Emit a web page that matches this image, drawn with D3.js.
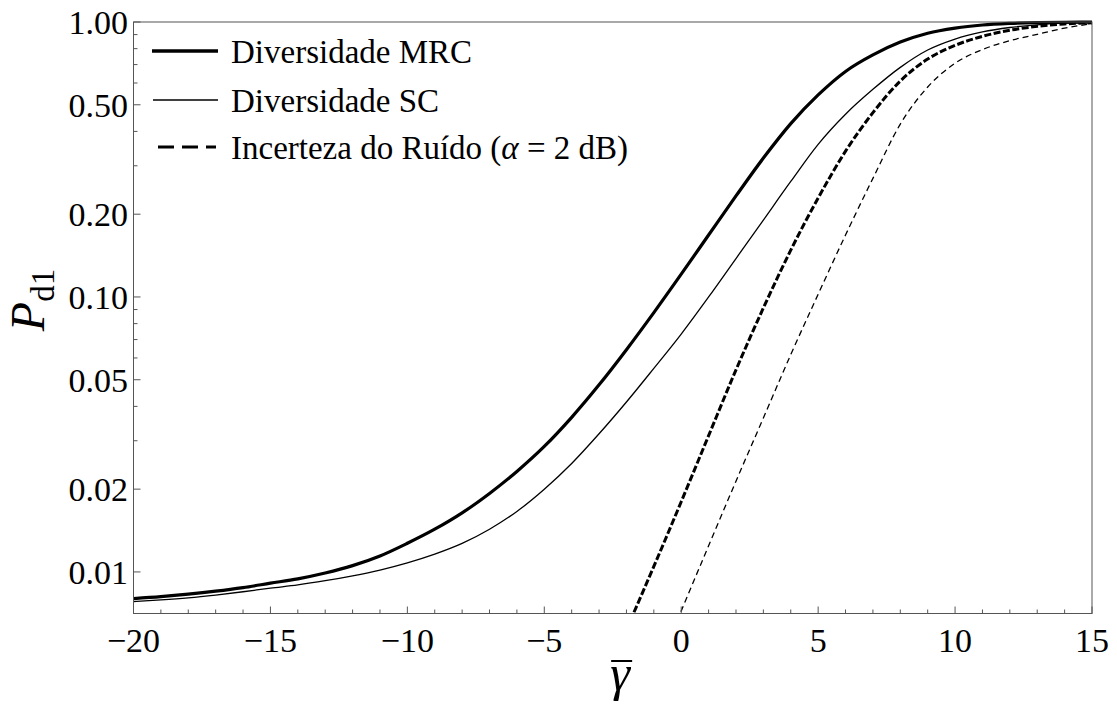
<!DOCTYPE html>
<html>
<head>
<meta charset="utf-8">
<script src="https://cdn.jsdelivr.net/npm/d3@7"></script>
<style>
  html, body { margin: 0; padding: 0; background: #fff; }
  svg { display: block; }
</style>
</head>
<body>
<svg id="chart" width="1117" height="726"></svg>
<script>
// ---- data ----
const xValues = d3.range(-20, 16); // -20 ... 15

const mrc = [0.0080, 0.00813, 0.0083, 0.00851, 0.00877, 0.0091, 0.00944, 0.00991, 0.01054, 0.01143,
             0.01271, 0.0143, 0.0164, 0.0193, 0.0232, 0.0286, 0.0365, 0.0479, 0.0643, 0.0877,
             0.1210, 0.1680, 0.2330, 0.3200, 0.4270, 0.5430, 0.6610, 0.7590, 0.8450, 0.9100,
             0.9500, 0.9750, 0.9880, 0.9950, 0.9980, 0.9990];

const sc  = [0.0078, 0.00791, 0.00805, 0.00824, 0.00847, 0.00873, 0.00897, 0.00929, 0.00968, 0.01016,
             0.01079, 0.01161, 0.0127, 0.0143, 0.0166, 0.0200, 0.0248, 0.0318, 0.0415, 0.0550,
             0.0733, 0.1000, 0.1380, 0.1905, 0.2630, 0.3590, 0.4620, 0.5690, 0.6840, 0.7910,
             0.8670, 0.9200, 0.9550, 0.9770, 0.9910, 0.9950];

// noise-uncertainty curves start at x = -2 and x = -1 (below the visible range at first)
const mrcNoiseX = d3.range(-2, 16);
const mrcNoise  = [0.00617, 0.01047, 0.0180, 0.0313, 0.0543, 0.0912, 0.1480, 0.2290, 0.3390, 0.4680,
                   0.6100, 0.7330, 0.8220, 0.8870, 0.9330, 0.9640, 0.9840, 0.9930];

const scNoiseX  = d3.range(-1, 16);
const scNoise   = [0.00417, 0.00721, 0.01245, 0.02138, 0.0363, 0.0617, 0.1023, 0.1680, 0.2700, 0.4250,
                   0.5800, 0.7080, 0.7940, 0.8550, 0.9020, 0.9500, 0.9850];

const xTicks = [-20, -15, -10, -5, 0, 5, 10, 15];
const xMinorTicks = d3.range(-20, 16);
const yTicks = [1.00, 0.50, 0.20, 0.10, 0.05, 0.02, 0.01];
const yMinorTicks = [0.9, 0.8, 0.7, 0.6, 0.4, 0.3, 0.09, 0.08, 0.07, 0.06, 0.04, 0.03];
const yDomain = [0.00706, 1];
const xDomain = [-20, 15];

const legendLabels = ["Diversidade MRC", "Diversidade SC", "Incerteza do Ruído"];

// ---- layout ----
const FONT = "'Liberation Serif', 'Times New Roman', Times, Tinos, 'Nimbus Roman', FreeSerif, 'Noto Serif', 'DejaVu Serif', serif";
const svg = d3.select("#chart").attr("font-family", FONT);
const pL = 133.5, pR = 1092, pT = 22, pB = 613.5;

const x = d3.scaleLinear().domain(xDomain).range([pL, pR]);
const y = d3.scaleLog().domain(yDomain).range([pB, pT]);

const defs = svg.append("defs");
defs.append("clipPath").attr("id", "clip")
  .append("rect").attr("x", pL).attr("y", pT - 2)
  .attr("width", pR - pL).attr("height", pB - pT + 2);

// curves
const line = d3.line().curve(d3.curveMonotoneX).x(d => x(d[0])).y(d => y(d[1]));
const series = [
  { xs: xValues,  ys: mrc,      width: 3.2, dash: null },
  { xs: xValues,  ys: sc,       width: 1.3, dash: null },
  { xs: mrcNoiseX, ys: mrcNoise, width: 3.0, dash: "7,2.5" },
  { xs: scNoiseX, ys: scNoise,  width: 1.3, dash: "6,4" }
];
const curves = svg.append("g").attr("clip-path", "url(#clip)");
series.forEach(s => {
  curves.append("path")
    .datum(s.xs.map((v, i) => [v, s.ys[i]]))
    .attr("d", line)
    .attr("fill", "none")
    .attr("stroke", "#000")
    .attr("stroke-width", s.width)
    .attr("stroke-linejoin", "round")
    .attr("stroke-dasharray", s.dash);
});

// frame
const frameColor = "#555";
svg.append("rect").attr("x", pL).attr("y", pT)
  .attr("width", pR - pL).attr("height", pB - pT)
  .attr("fill", "none").attr("stroke", frameColor).attr("stroke-width", 1);

// x axis
const gx = svg.append("g");
gx.selectAll("line").data(xMinorTicks).join("line")
  .attr("x1", d => x(d)).attr("x2", d => x(d))
  .attr("y1", pB).attr("y2", d => pB - (xTicks.includes(d) ? 7 : 4))
  .attr("stroke", frameColor).attr("stroke-width", 1);
gx.selectAll("text").data(xTicks).join("text")
  .attr("x", d => x(d)).attr("y", 652)
  .attr("text-anchor", "middle")
  .attr("font-family", FONT)
  .attr("font-size", 34)
  .text(d => d < 0 ? "\u2212" + Math.abs(d) : String(d));

// y axis
const gy = svg.append("g");
gy.selectAll("line.major").data(yTicks).join("line").attr("class", "major")
  .attr("x1", pL).attr("x2", pL + 7)
  .attr("y1", d => y(d)).attr("y2", d => y(d))
  .attr("stroke", frameColor).attr("stroke-width", 1);
gy.selectAll("line.minor").data(yMinorTicks).join("line").attr("class", "minor")
  .attr("x1", pL).attr("x2", pL + 4)
  .attr("y1", d => y(d)).attr("y2", d => y(d))
  .attr("stroke", frameColor).attr("stroke-width", 1);
gy.selectAll("text").data(yTicks).join("text")
  .attr("x", 128).attr("y", d => y(d))
  .attr("dy", "0.35em")
  .attr("text-anchor", "end")
  .attr("font-family", FONT)
  .attr("font-size", 34)
  .text(d => d3.format(".2f")(d));

// axis labels
const yl = svg.append("text")
  .attr("transform", "translate(44,300) rotate(-90)")
  .attr("text-anchor", "middle")
  .attr("font-family", FONT);
yl.append("tspan").attr("font-style", "italic").attr("font-size", 48).text("P");
yl.append("tspan").attr("font-size", 33).attr("dy", 10).text("d1");

const xl = svg.append("text")
  .attr("x", 620).attr("y", 690)
  .attr("text-anchor", "middle")
  .attr("font-family", FONT)
  .attr("font-style", "italic")
  .attr("font-size", 50)
  .text("γ");
const bb = xl.node().getBBox();
svg.append("line")
  .attr("x1", bb.x + 1).attr("x2", bb.x + bb.width + 1)
  .attr("y1", 661).attr("y2", 661)
  .attr("stroke", "#000").attr("stroke-width", 2);

// legend
const legend = svg.append("g");
const legendItems = [
  { label: legendLabels[0], width: 3.5, dash: null, x1: 152, x2: 218 },
  { label: legendLabels[1], width: 1.3, dash: null, x1: 153, x2: 218 },
  { label: legendLabels[2], width: 2.8, dash: "16,8", x1: 158, x2: 216 }
];
const legendY = [51, 100, 147];
legendItems.forEach((it, i) => {
  legend.append("line")
    .attr("x1", it.x1).attr("x2", it.x2)
    .attr("y1", legendY[i]).attr("y2", legendY[i])
    .attr("stroke", "#000").attr("stroke-width", it.width)
    .attr("stroke-dasharray", it.dash);
  const t = legend.append("text")
    .attr("x", 231).attr("y", legendY[i] + 11.5)
    .attr("font-family", FONT)
    .attr("font-size", 33);
  t.append("tspan").text(it.label);
  if (i === 2) {
    t.append("tspan").text(" (");
    t.append("tspan").attr("font-style", "italic").text("α");
    t.append("tspan").text(" = 2 dB)");
  }
});
</script>
</body>
</html>
